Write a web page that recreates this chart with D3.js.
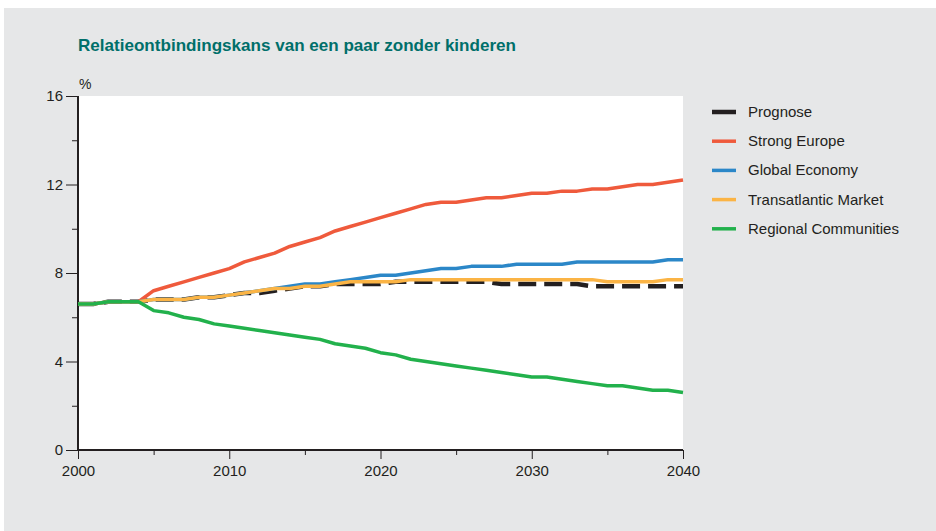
<!DOCTYPE html>
<html><head><meta charset="utf-8">
<script src="https://cdn.jsdelivr.net/npm/d3@7"></script>
<style>body{margin:0;background:#fff}svg{display:block}text{font-family:"Liberation Sans",Arial,sans-serif}</style>
</head><body>
<svg id="c" width="936" height="531"></svg>
<script>
const years = d3.range(2000, 2041);
const base = [6.6, 6.6, 6.7, 6.7, 6.7];
const prognose = base.concat([6.8,6.8,6.8,6.9,6.9,7.0,7.1,7.1,7.2,7.3,7.4,7.4,7.5,7.5,7.5,7.5,7.6,7.6,7.6,7.6,7.6,7.6,7.6,7.5,7.5,7.5,7.5,7.5,7.5,7.4,7.4,7.4,7.4,7.4,7.4,7.4]);
const strongEurope = base.concat([7.2,7.4,7.6,7.8,8.0,8.2,8.5,8.7,8.9,9.2,9.4,9.6,9.9,10.1,10.3,10.5,10.7,10.9,11.1,11.2,11.2,11.3,11.4,11.4,11.5,11.6,11.6,11.7,11.7,11.8,11.8,11.9,12.0,12.0,12.1,12.2]);
const globalEconomy = base.concat([6.8,6.8,6.8,6.9,6.9,7.0,7.1,7.2,7.3,7.4,7.5,7.5,7.6,7.7,7.8,7.9,7.9,8.0,8.1,8.2,8.2,8.3,8.3,8.3,8.4,8.4,8.4,8.4,8.5,8.5,8.5,8.5,8.5,8.5,8.6,8.6]);
const transatlantic = base.concat([6.8,6.8,6.8,6.9,6.9,7.0,7.1,7.2,7.3,7.3,7.4,7.4,7.5,7.6,7.6,7.6,7.6,7.7,7.7,7.7,7.7,7.7,7.7,7.7,7.7,7.7,7.7,7.7,7.7,7.7,7.6,7.6,7.6,7.6,7.7,7.7]);
const regional = base.concat([6.3,6.2,6.0,5.9,5.7,5.6,5.5,5.4,5.3,5.2,5.1,5.0,4.8,4.7,4.6,4.4,4.3,4.1,4.0,3.9,3.8,3.7,3.6,3.5,3.4,3.3,3.3,3.2,3.1,3.0,2.9,2.9,2.8,2.7,2.7,2.6]);
const seriesNames = ["Prognose","Strong Europe","Global Economy","Transatlantic Market","Regional Communities"];
const seriesValues = [prognose, strongEurope, globalEconomy, transatlantic, regional];
const seriesColors = ["#231f20","#ef5a3c","#2b87c8","#fbb445","#22b14c"];
const yTicks = [0,4,8,12,16];
const xTicks = [2000,2010,2020,2030,2040];

const svg = d3.select("#c");
svg.append("rect").attr("x",4).attr("y",8).attr("width",932).attr("height",523).attr("fill","#e6e7e8");

const L=78, R=683, T=96, B=450;
const x = d3.scaleLinear().domain([2000,2040]).range([L,R]);
const y = d3.scaleLinear().domain([0,16]).range([B,T]);

svg.append("rect").attr("x",L).attr("y",T).attr("width",R-L).attr("height",B-T).attr("fill","#fff");

svg.append("text").attr("x",78).attr("y",51).attr("fill","#006f6a")
  .attr("font-weight","bold").attr("font-size",17)
  .attr("textLength",438).attr("lengthAdjust","spacingAndGlyphs")
  .text("Relatieontbindingskans van een paar zonder kinderen");

svg.append("text").attr("x",79).attr("y",89).attr("font-size",14).attr("fill","#231f20").text("%");

// y axis
const ya = svg.append("g").attr("transform",`translate(${L},0)`)
  .call(d3.axisLeft(y).tickValues(yTicks).tickSize(12).tickPadding(3).tickFormat(d3.format("d")));
const yMinor = svg.append("g").attr("transform",`translate(${L},0)`)
  .call(d3.axisLeft(y).tickValues([2,6,10,14]).tickSize(6).tickFormat(""));
yMinor.select(".domain").remove();
// x axis
const xa = svg.append("g").attr("transform",`translate(0,${B})`)
  .call(d3.axisBottom(x).tickValues(xTicks).tickSize(9).tickPadding(6).tickFormat(d3.format("d")));
const xMinor = svg.append("g").attr("transform",`translate(0,${B})`)
  .call(d3.axisBottom(x).tickValues([2005,2015,2025,2035]).tickSize(5).tickFormat(""));
xMinor.select(".domain").remove();
svg.selectAll(".domain").attr("stroke","#231f20").attr("stroke-width",2);
svg.selectAll(".tick line").attr("stroke","#231f20").attr("stroke-width",1);
svg.selectAll(".tick text").attr("font-size",15).attr("fill","#231f20").attr("font-family","Liberation Sans, Arial, sans-serif");
ya.select(".domain").attr("d",`M0,${T}V${B}`);
xa.select(".domain").attr("d",`M${L},0H${R}`);

const line = d3.line().x((d,i)=>x(years[i])).y(d=>y(d));
seriesValues.forEach((vals,k)=>{
  const p = svg.append("path").attr("d",line(vals)).attr("fill","none")
    .attr("stroke",seriesColors[k]).attr("stroke-width",k===0?4.5:3.5)
    .attr("stroke-linejoin","round");
  if(k===0) p.attr("stroke-dasharray","18,8");
});

// legend
const lg = svg.append("g");
seriesNames.forEach((n,k)=>{
  const yy = 112 + k*29.2;
  lg.append("line").attr("x1",712).attr("x2",736).attr("y1",yy).attr("y2",yy)
    .attr("stroke",seriesColors[k]).attr("stroke-width",k===0?4.5:3.5);
  lg.append("text").attr("x",748).attr("y",yy+5).attr("font-size",15).attr("fill","#231f20").text(n);
});
</script>
</body></html>
